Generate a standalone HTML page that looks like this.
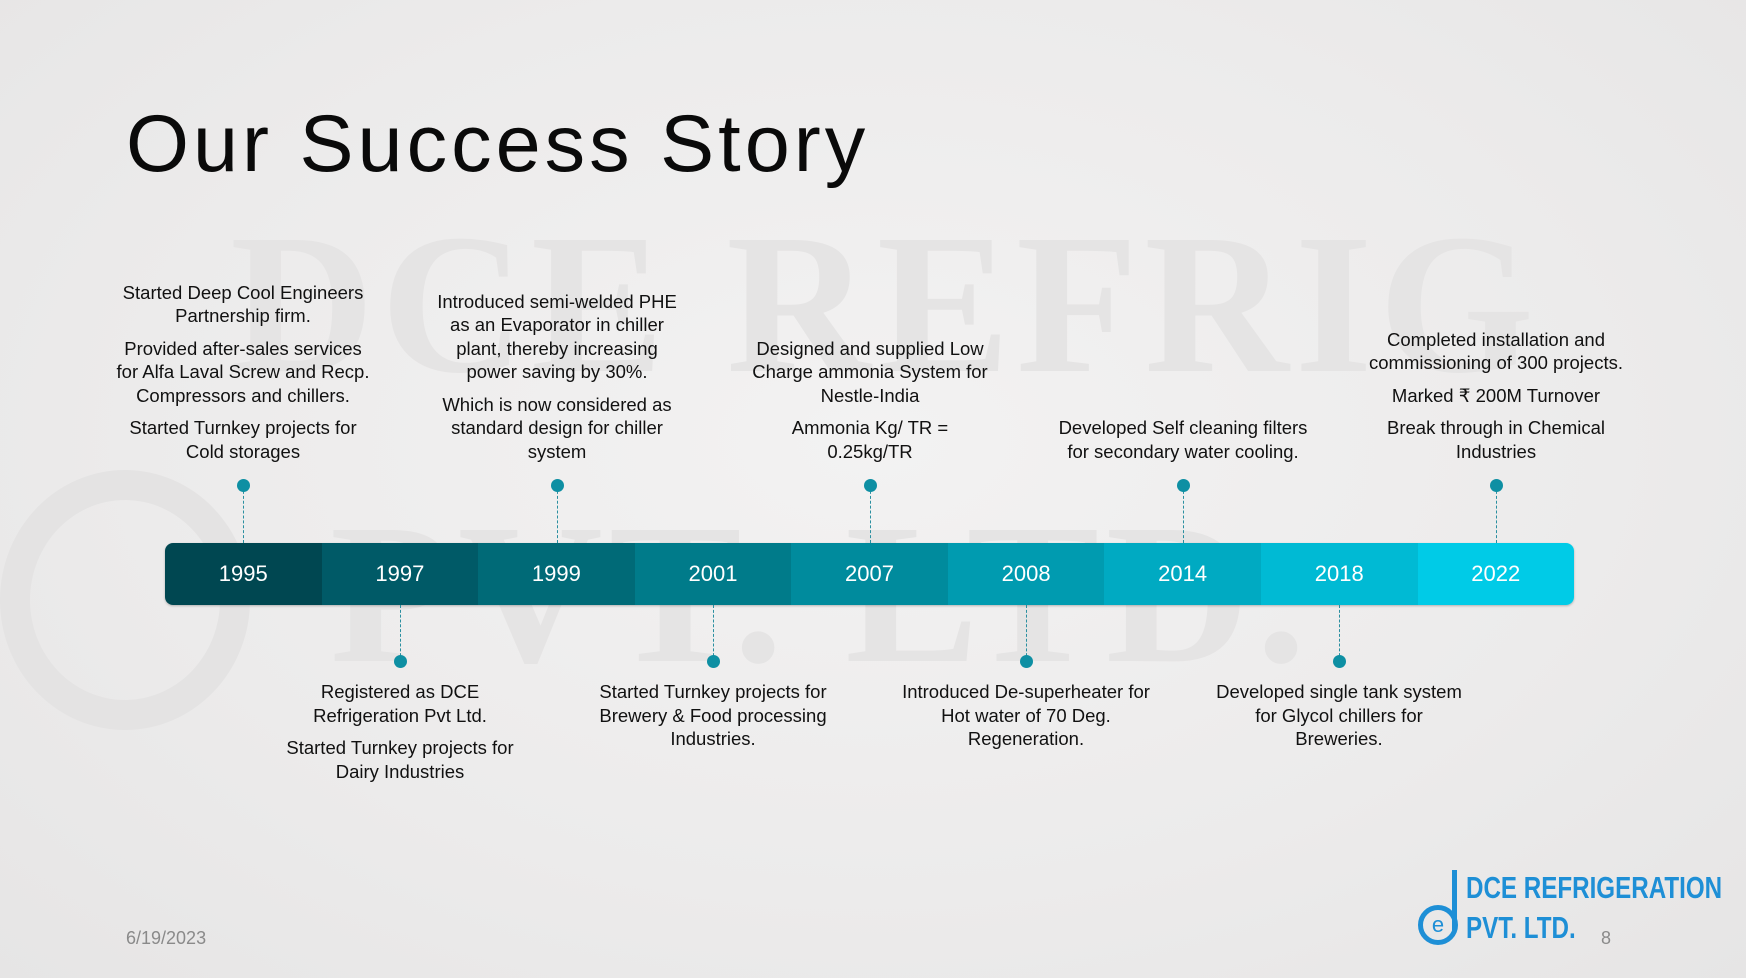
<!DOCTYPE html>
<html><head><meta charset="utf-8">
<style>
html,body{margin:0;padding:0}
body{width:1746px;height:978px;position:relative;overflow:hidden;
background:radial-gradient(ellipse at 50% 45%,#f3f2f2 0%,#ecebeb 60%,#e6e5e5 100%);
font-family:"Liberation Sans",sans-serif;color:#111}
.wmwrap{position:absolute;left:0;top:0;width:1746px;height:978px;overflow:hidden}
.wm{position:absolute;font-family:"Liberation Serif",serif;font-weight:bold;color:#e5e4e4;white-space:nowrap;letter-spacing:6px}
.title{position:absolute;left:126px;top:98px;font-size:81px;letter-spacing:4px;color:#0a0a0a;white-space:nowrap}
.bar{position:absolute;left:165px;top:543px;width:1409px;height:62px;border-radius:8px;overflow:hidden;display:flex;box-shadow:0 1px 2px rgba(0,0,0,.25)}
.seg{flex:1;color:#fff;font-size:22px;display:flex;align-items:center;justify-content:center}
.dot{position:absolute;width:13px;height:13px;border-radius:50%;background:#0e8fa3;margin-left:-6.5px}
.ln{position:absolute;width:0;border-left:1px dashed #2a8fa0}
.txt{position:absolute;width:256px;margin-left:-128px;text-align:center;font-size:18.5px;line-height:23.5px;color:#111}
.txt p{margin:0 0 9px 0}
.txt p:last-child{margin-bottom:0}
.up{bottom:515px}
.dn{top:680px}
.foot{position:absolute;color:#8a8a8a;font-size:18px}
.logo{position:absolute;left:1466px;font-family:"Liberation Sans Narrow","Liberation Sans",sans-serif;font-weight:bold;color:#1e8fd6;font-size:31px;white-space:nowrap;transform:scaleX(0.78);transform-origin:left top}
</style></head><body>
<div class="wmwrap">
<div class="wm" style="left:230px;top:190px;font-size:200px;">DCE REFRIG</div>
<div class="wm" style="left:330px;top:480px;font-size:200px;">PVT. LTD.</div>
<div style="position:absolute;left:0px;top:470px;width:250px;height:260px;border-radius:50%;border:30px solid #e4e3e3;box-sizing:border-box"></div>
</div>

<div class="title">Our Success Story</div>

<div class="bar">
<div class="seg" style="background:#004751">1995</div>
<div class="seg" style="background:#005a67">1997</div>
<div class="seg" style="background:#006a77">1999</div>
<div class="seg" style="background:#007b8a">2001</div>
<div class="seg" style="background:#008b9d">2007</div>
<div class="seg" style="background:#009bb0">2008</div>
<div class="seg" style="background:#00aac2">2014</div>
<div class="seg" style="background:#00bad4">2018</div>
<div class="seg" style="background:#00cbe7">2022</div>
</div>

<div class="ln" style="left:243px;top:486px;height:57px"></div>
<div class="ln" style="left:557px;top:486px;height:57px"></div>
<div class="ln" style="left:870px;top:486px;height:57px"></div>
<div class="ln" style="left:1183px;top:486px;height:57px"></div>
<div class="ln" style="left:1496px;top:486px;height:57px"></div>
<div class="dot" style="left:243px;top:479px"></div>
<div class="dot" style="left:557px;top:479px"></div>
<div class="dot" style="left:870px;top:479px"></div>
<div class="dot" style="left:1183px;top:479px"></div>
<div class="dot" style="left:1496px;top:479px"></div>
<div class="ln" style="left:400px;top:605px;height:56px"></div>
<div class="ln" style="left:713px;top:605px;height:56px"></div>
<div class="ln" style="left:1026px;top:605px;height:56px"></div>
<div class="ln" style="left:1339px;top:605px;height:56px"></div>
<div class="dot" style="left:400px;top:655px"></div>
<div class="dot" style="left:713px;top:655px"></div>
<div class="dot" style="left:1026px;top:655px"></div>
<div class="dot" style="left:1339px;top:655px"></div>

<div class="txt up" style="left:243px">
<p>Started Deep Cool Engineers Partnership firm.</p>
<p>Provided after-sales services for Alfa Laval Screw and Recp. Compressors and chillers.</p>
<p>Started Turnkey projects for Cold storages</p></div>
<div class="txt up" style="left:557px">
<p>Introduced semi-welded PHE as an Evaporator in chiller plant, thereby increasing power saving by 30%.</p>
<p>Which is now considered as standard design for chiller system</p></div>
<div class="txt up" style="left:870px">
<p>Designed and supplied Low Charge ammonia System for Nestle-India</p>
<p>Ammonia Kg/ TR =<br>0.25kg/TR</p></div>
<div class="txt up" style="left:1183px">
<p>Developed Self cleaning filters for secondary water cooling.</p></div>
<div class="txt up" style="left:1496px">
<p>Completed installation and commissioning of 300 projects.</p>
<p>Marked ₹ 200M Turnover</p>
<p>Break through in Chemical Industries</p></div>

<div class="txt dn" style="left:400px">
<p>Registered as DCE Refrigeration Pvt Ltd.</p>
<p>Started Turnkey projects for Dairy Industries</p></div>
<div class="txt dn" style="left:713px">
<p>Started Turnkey projects for Brewery &amp; Food processing Industries.</p></div>
<div class="txt dn" style="left:1026px">
<p>Introduced De-superheater for Hot water of 70 Deg. Regeneration.</p></div>
<div class="txt dn" style="left:1339px">
<p>Developed single tank system for Glycol chillers for Breweries.</p></div>

<div class="foot" style="left:126px;top:928px">6/19/2023</div>
<div class="foot" style="left:1601px;top:928px">8</div>

<div>
<div style="position:absolute;left:1452px;top:870px;width:5px;height:60px;background:#1e8fd6"></div>
<div style="position:absolute;left:1418px;top:905px;width:40px;height:40px;border-radius:50%;border:5px solid #1e8fd6;box-sizing:border-box;color:#1e8fd6;font-size:22px;text-align:center;line-height:30px">e</div>
<div class="logo" style="top:870px">DCE REFRIGERATION</div>
<div class="logo" style="top:910px">PVT. LTD.</div>
</div>
</body></html>
